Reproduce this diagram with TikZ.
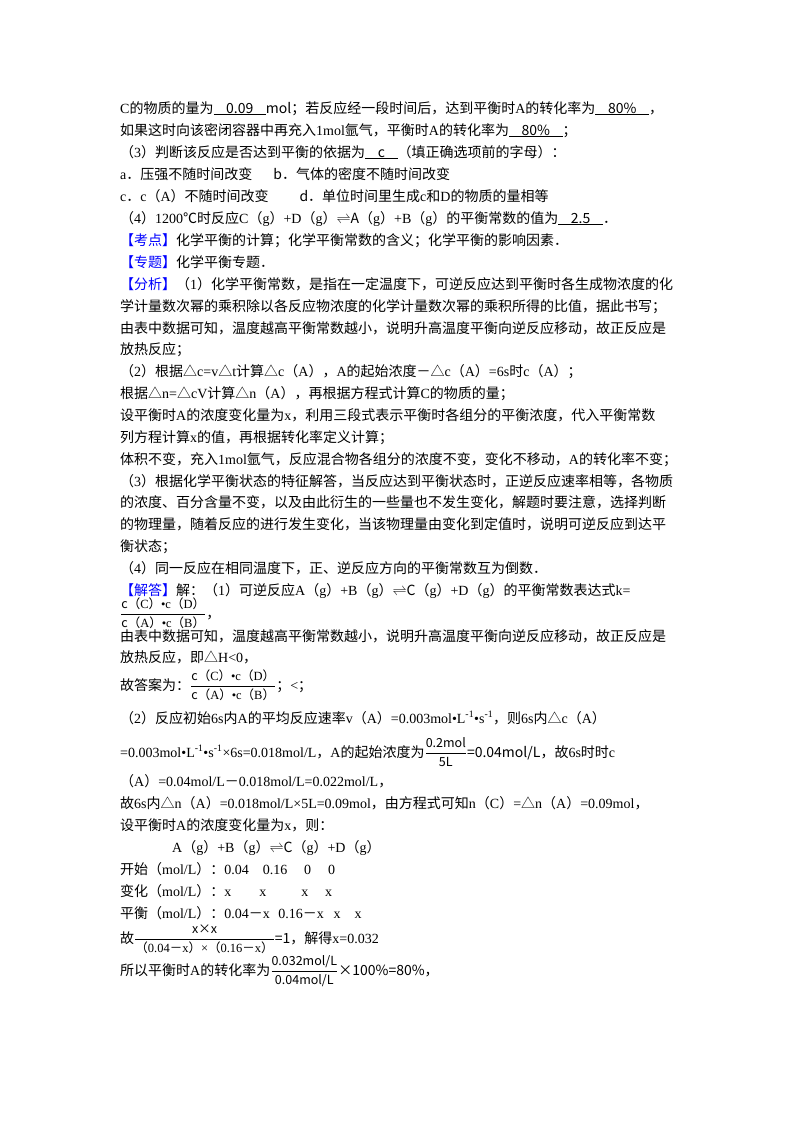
\documentclass[tikz,border=0pt]{standalone}
\usepackage{fontspec}
\setmainfont{Liberation Serif}
\newfontfamily\cjk{Noto Sans CJK SC}
\XeTeXinterchartokenstate=1
\newXeTeXintercharclass\cjkclass
\makeatletter
\count@="3000 \loop\ifnum\count@<"A000 \XeTeXcharclass\count@=\cjkclass \advance\count@ 1 \repeat
\count@="FF00 \loop\ifnum\count@<"FFF0 \XeTeXcharclass\count@=\cjkclass \advance\count@ 1 \repeat
\XeTeXcharclass"25B3=\cjkclass
\XeTeXcharclass"2103=\cjkclass
\makeatother
\XeTeXinterchartoks 0 \cjkclass {\cjk}
\XeTeXinterchartoks 255 \cjkclass {\cjk}
\XeTeXinterchartoks \cjkclass 0 {\rmfamily}
\XeTeXinterchartoks 255 0 {\rmfamily}
\newcommand\blk[1]{\underline{\hspace{0.9em}#1\hspace{0.9em}}}
\newcommand\tagb[1]{\textcolor{blue}{\cjk【#1】}}
\newcommand\eqm{$\rightleftharpoons$}
\newcommand\fr[2]{$\displaystyle\frac{\mbox{\cjk\fontsize{12.5}{12}\selectfont #1}}{\mbox{\cjk\fontsize{12.5}{12}\selectfont #2}}$}
\newcommand\kfrac{\fr{c（C）•c（D）}{c（A）•c（B）}}
\newcommand\ls{L\textsuperscript{-1}•s\textsuperscript{-1}}
\begin{document}
\begin{tikzpicture}[x=1pt,y=1pt,
  ln/.style={anchor=base west,inner sep=0pt,font=\fontsize{14}{21}\cjk}]
\useasboundingbox (0,0) rectangle (800,-1132);
\fill[white] (0,0) rectangle (800,-1132);
\node[ln] (l1) at (120,-113) {\rmfamily C的物质的量为\blk{0.09}mol；若反应经一段时间后，达到平衡时A的转化率为\blk{80\%}，};
\node[ln] (l2) at (120,-135) {如果这时向该密闭容器中再充入1mol氩气，平衡时A的转化率为\blk{80\%}；};
\node[ln] (l3) at (120,-157) {（3）判断该反应是否达到平衡的依据为\blk{c}（填正确选项前的字母）：};
\node[ln] (l4) at (120,-179) {\rmfamily a．压强不随时间改变\hspace{1.5em}b．气体的密度不随时间改变};
\node[ln] (l5) at (120,-201) {\rmfamily c．c（A）不随时间改变\hspace{2.2em}d．单位时间里生成c和D的物质的量相等};
\node[ln] (l6) at (120,-223) {（4）1200℃时反应C（g）+D（g）\eqm A（g）+B（g）的平衡常数的值为\blk{2.5}．};
\node[ln] (l7) at (120,-245) {\tagb{考点}化学平衡的计算；化学平衡常数的含义；化学平衡的影响因素．};
\node[ln] (l8) at (120,-267) {\tagb{专题}化学平衡专题．};
\node[ln] (l9) at (120,-289) {\tagb{分析}（1）化学平衡常数，是指在一定温度下，可逆反应达到平衡时各生成物浓度的化};
\node[ln] (l10) at (120,-311) {学计量数次幂的乘积除以各反应物浓度的化学计量数次幂的乘积所得的比值，据此书写；};
\node[ln] (l11) at (120,-333) {由表中数据可知，温度越高平衡常数越小，说明升高温度平衡向逆反应移动，故正反应是};
\node[ln] (l12) at (120,-354) {放热反应；};
\node[ln] (l13) at (120,-376) {（2）根据△c=v△t计算△c（A），A的起始浓度－△c（A）=6s时c（A）；};
\node[ln] (l14) at (120,-398) {根据△n=△cV计算△n（A），再根据方程式计算C的物质的量；};
\node[ln] (l15) at (120,-420) {设平衡时A的浓度变化量为x，利用三段式表示平衡时各组分的平衡浓度，代入平衡常数};
\node[ln] (l16) at (120,-442) {列方程计算x的值，再根据转化率定义计算；};
\node[ln] (l17) at (120,-464) {体积不变，充入1mol氩气，反应混合物各组分的浓度不变，变化不移动，A的转化率不变；};
\node[ln] (l18) at (120,-486) {（3）根据化学平衡状态的特征解答，当反应达到平衡状态时，正逆反应速率相等，各物质};
\node[ln] (l19) at (120,-507) {的浓度、百分含量不变，以及由此衍生的一些量也不发生变化，解题时要注意，选择判断};
\node[ln] (l20) at (120,-529) {的物理量，随着反应的进行发生变化，当该物理量由变化到定值时，说明可逆反应到达平};
\node[ln] (l21) at (120,-551) {衡状态；};
\node[ln] (l22) at (120,-573) {（4）同一反应在相同温度下，正、逆反应方向的平衡常数互为倒数．};
\node[ln] (l23) at (120,-595) {\tagb{解答}解：（1）可逆反应A（g）+B（g）\eqm C（g）+D（g）的平衡常数表达式k=};
\node[ln] (l24) at (120,-618) {\kfrac，};
\node[ln] (l25) at (120,-641) {由表中数据可知，温度越高平衡常数越小，说明升高温度平衡向逆反应移动，故正反应是};
\node[ln] (l26) at (120,-662) {放热反应，即△H<0，};
\node[ln] (l27) at (120,-690) {故答案为：\kfrac；<；};
\node[ln] (l28) at (120,-723) {（2）反应初始6s内A的平均反应速率v（A）=0.003mol•\ls\cjk，则6s内△c（A）};
\node[ln] (l29) at (120,-757) {\rmfamily =0.003mol•\ls×6s=0.018mol/L，A的起始浓度为\fr{0.2mol}{5L}=0.04mol/L，故6s时时c};
\node[ln] (l30) at (120,-786) {（A）=0.04mol/L\cjk－\rmfamily 0.018mol/L=0.022mol/L，};
\node[ln] (l31) at (120,-808) {故6s内△n（A）=0.018mol/L×5L=0.09mol，由方程式可知n（C）=△n（A）=0.09mol，};
\node[ln] (l32) at (120,-830) {设平衡时A的浓度变化量为x，则：};
\node[ln] (l33) at (172,-852) {\rmfamily A（g）+B（g）\eqm C（g）+D（g）};
\node[ln] (l34) at (120,-874) {开始（mol/L）：0.04\hspace{1em}0.16\hspace{1.2em}0\hspace{1.2em}0};
\node[ln] (l35) at (120,-896) {变化（mol/L）：x\hspace{2em}x\hspace{2.5em}x\hspace{1.2em}x};
\node[ln] (l36) at (120,-918) {平衡（mol/L）：0.04－x\hspace{0.6em}0.16－x\hspace{0.7em}x\hspace{1em}x};
\node[ln] (l37) at (120,-943) {故\fr{x×x}{（0.04－x）×（0.16－x）}=1，解得x=0.032};
\node[ln] (l38) at (120,-975) {所以平衡时A的转化率为\fr{0.032mol/L}{0.04mol/L}×100\%=80\%，};
\end{tikzpicture}
\end{document}
